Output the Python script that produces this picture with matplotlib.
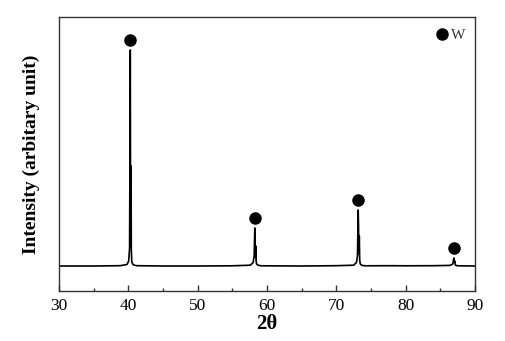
import matplotlib
matplotlib.use("Agg")
import matplotlib.pyplot as plt
from matplotlib.ticker import MultipleLocator

plt.rcParams['font.family'] = ['Liberation Serif', 'DejaVu Serif']

# XRD trace (2theta, intensity in arbitrary units)
two_theta = [30.0, 35.0, 38.8, 39.8, 40.05, 40.18, 40.24, 40.28, 40.32, 40.36, 40.39, 40.43, 40.5, 40.7, 41.2,
             45.0, 50.0, 55.0, 57.6, 58.0, 58.15, 58.24, 58.29, 58.34, 58.39, 58.43, 58.5, 58.7, 59.2,
             65.0, 70.0, 72.5, 72.9, 73.05, 73.15, 73.2, 73.26, 73.31, 73.37, 73.45, 73.7, 74.2,
             78.0, 80.0, 84.0, 86.4, 86.8, 86.95, 87.02, 87.08, 87.15, 87.25, 87.6, 90.0]
intensity = [0.0, 0.0, 0.3, 1.5, 5.0, 18.0, 120.0, 216.0, 60.0, 20.0, 100.0, 16.0, 4.0, 1.2, 0.3,
             0.0, 0.0, 0.2, 0.8, 3.5, 10.0, 38.0, 12.0, 9.0, 20.0, 5.0, 2.0, 0.8, 0.2,
             0.0, 0.3, 0.8, 3.5, 10.0, 56.0, 40.0, 12.0, 30.0, 6.0, 2.0, 0.6, 0.2,
             0.3, 0.2, 0.3, 0.6, 2.0, 8.0, 4.0, 5.0, 1.5, 0.5, 0.2, 0.0]

# W peak markers
w_pos = [40.26, 58.27, 73.19, 87.02]
w_mark = [226.0, 48.0, 66.0, 18.0]

fig = plt.figure(figsize=(5.05, 3.41), dpi=100)
ax = fig.add_axes([59/505, 1 - 291/341, (475-59)/505, (291-17)/341])

ax.plot(two_theta, intensity, color='black', lw=1.2)
ax.plot(w_pos, w_mark, 'o', color='black', ms=8, ls='none', label='W')

ax.set_xlim(30, 90)
ax.set_ylim(-25, 249)
ax.xaxis.set_major_locator(MultipleLocator(10))
ax.xaxis.set_minor_locator(MultipleLocator(5))
ax.tick_params(axis='x', which='major', direction='in', length=4, width=1, labelsize=12.5, pad=5, color='#333333')
ax.tick_params(axis='x', which='minor', direction='in', length=2.5, width=1, color='#333333')
ax.set_yticks([])
for s in ax.spines.values():
    s.set_color('#333333')
    s.set_linewidth(1.0)

ax.set_xlabel('2θ', fontsize=15, fontweight='bold', labelpad=0)
ax.set_ylabel('Intensity (arbitary unit)', fontsize=14, fontweight='bold', labelpad=14)

ax.legend(loc='upper right', bbox_to_anchor=(0.995, 0.985), frameon=False, handletextpad=0.2,
          fontsize=11, borderaxespad=0.1, handlelength=0.8, labelcolor='#333333')

fig.savefig('out.png', dpi=100)
